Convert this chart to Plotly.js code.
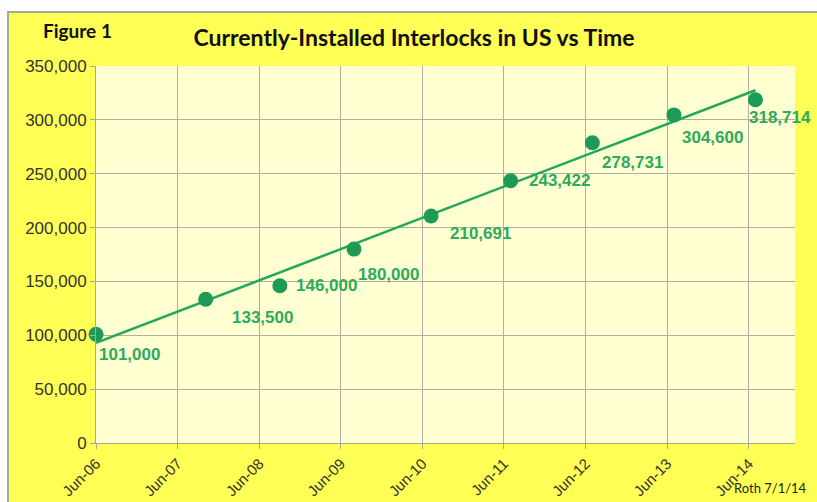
<!DOCTYPE html>
<html>
<head>
<meta charset="utf-8">
<script src="https://cdn.plot.ly/plotly-3.0.1.min.js"></script>
<style>
html,body{margin:0;padding:0;background:#ffffff;width:817px;height:502px;overflow:hidden;}
#wrap{position:absolute;left:7px;top:11px;width:812px;height:493px;border-left:2px solid #a8a89a;border-top:2px solid #a8a89a;background:#ffff55;}
#chart{width:810px;height:491px;}
</style>
</head>
<body>
<div id="wrap"><div id="chart"></div></div>
<script>
// Data
var dates = ['2006-06-01','2007-10-05','2008-09-01','2009-07-30','2010-07-10','2011-07-01','2012-07-01','2013-07-01','2014-07-01'];
var installed = [101000,133500,146000,180000,210691,243422,278731,304600,318714];
var labels = ['101,000','133,500','146,000','180,000','210,691','243,422','278,731','304,600','318,714'];
var trendDates = ['2006-06-01','2014-07-01'];
var trendValues = [93000,327500];
var tickDates = ['2006-06-01','2007-06-01','2008-06-01','2009-06-01','2010-06-01','2011-06-01','2012-06-01','2013-06-01','2014-06-01'];
var tickText = ['Jun-06','Jun-07','Jun-08','Jun-09','Jun-10','Jun-11','Jun-12','Jun-13','Jun-14'];
var yTicks = [0,50000,100000,150000,200000,250000,300000,350000];
var yTickText = ['0','50,000','100,000','150,000','200,000','250,000','300,000','350,000'];

// label offsets (px) relative to each point
var shifts = [[1,-20],[24,-18],[14,0],[2,-25],[17,-17],[16,0],[8,-20],[6,-23],[-8,-18]];

var green = '#22a85a';
var traces = [
  {x: trendDates, y: trendValues, mode:'lines', type:'scatter', line:{color:green, width:2.5}, hoverinfo:'skip', showlegend:false},
  {x: dates, y: installed, mode:'markers', type:'scatter', marker:{color:'#1d9a58', size:15, line:{width:0}}, cliponaxis:false, showlegend:false}
];

var annotations = dates.map(function(d,i){
  return {x:d, y:installed[i], xref:'x', yref:'y', text:labels[i], showarrow:false,
    xanchor:'left', yanchor:'middle', xshift:shifts[i][0], yshift:shifts[i][1],
    font:{family:'Arial, Liberation Sans, sans-serif', size:17, color:'#2eaa5c', weight:'bold'}};
});
annotations.push({xref:'paper', yref:'paper', x:-0.078, y:1.093, xanchor:'left', yanchor:'middle', showarrow:false,
  text:'<b>Figure 1</b>', font:{family:'Lato, Open Sans, sans-serif', size:19, color:'#111'}});
annotations.push({xref:'paper', yref:'paper', x:1.02, y:-0.12, xanchor:'right', yanchor:'middle', showarrow:false,
  text:'Roth 7/1/14', font:{family:'Lato, Open Sans, sans-serif', size:13, color:'#222'}});

var layout = {
  width:810, height:491,
  margin:{l:87, r:24, t:53, b:61},
  paper_bgcolor:'#ffff55',
  plot_bgcolor:'#ffffd2',
  title:{text:'<b>Currently-Installed Interlocks in US vs Time</b>', x:0.5, xanchor:'center', y:0.95, yanchor:'middle',
    font:{family:'Lato, Open Sans, sans-serif', size:23, color:'#111'}},
  xaxis:{type:'date', range:['2006-06-01','2014-12-25'], tickvals:tickDates, ticktext:tickText, tickangle:-45,
    showgrid:true, gridcolor:'#b0b0a0', gridwidth:1, zeroline:false, showline:true, linecolor:'#a8a89a', linewidth:1,
    ticks:'outside', ticklen:5, tickcolor:'#a8a89a',
    tickfont:{family:'Arial, Liberation Sans, sans-serif', size:15, color:'#333'}},
  yaxis:{range:[0,350000], tickvals:yTicks, ticktext:yTickText,
    showgrid:true, gridcolor:'#b0b0a0', gridwidth:1, zeroline:false, showline:true, linecolor:'#a8a89a', linewidth:1,
    ticks:'outside', ticklen:5, tickcolor:'#a8a89a',
    tickfont:{family:'Arial, Liberation Sans, sans-serif', size:17, color:'#333'}},
  annotations: annotations,
  showlegend:false
};

Plotly.newPlot('chart', traces, layout, {displayModeBar:false, staticPlot:true});
</script>
</body>
</html>
